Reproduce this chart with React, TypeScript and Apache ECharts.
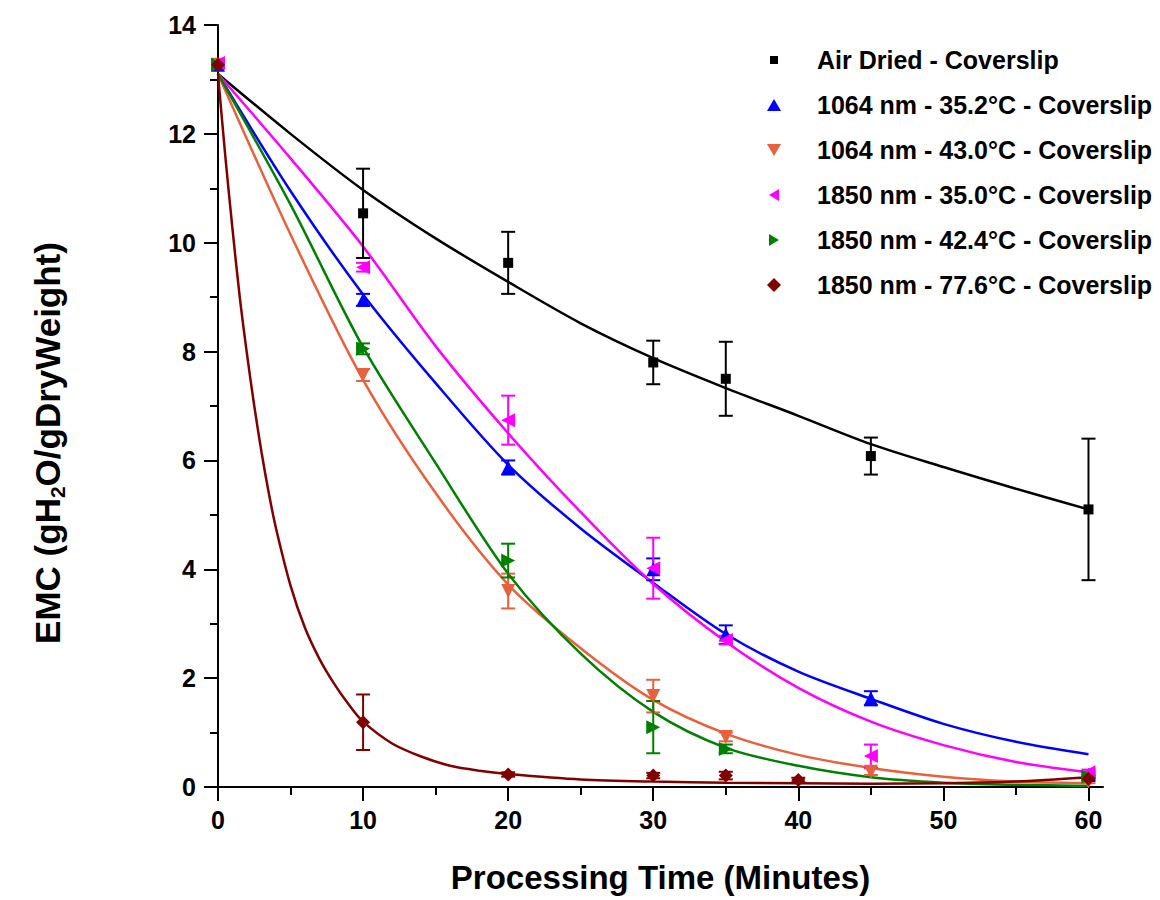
import React, { useEffect, useRef } from "react";
import * as echarts from "echarts";

const FONT = "Liberation Sans, Arial, sans-serif";

const seriesNames = [
  "Air Dried - Coverslip",
  "1064 nm - 35.2°C - Coverslip",
  "1064 nm - 43.0°C - Coverslip",
  "1850 nm - 35.0°C - Coverslip",
  "1850 nm - 42.4°C - Coverslip",
  "1850 nm - 77.6°C - Coverslip",
];
const seriesColors = ["#000000", "#0000FF", "#E8603C", "#FF00FF", "#008000", "#800000"];
const seriesSymbols = ["rect", "triangle", "triangle", "triangle", "triangle", "diamond"];
const seriesRotate = [0, 0, 180, 90, -90, 0];
const seriesSymbolSize = [10, 14, 14, 14, 14, 14];
const legendIcons = [
  "path://M0,0M14,14M3,3H11V11H3Z",
  "path://M7,1L14,13L0,13Z",
  "path://M0,1L14,1L7,13Z",
  "path://M0,0M14,14M12,1L12,13L2,7Z",
  "path://M0,0M14,14M2,1L2,13L12,7Z",
  "path://M7,0L14,7L7,14L0,7Z",
];

// measured points (mean ± error)
const airTimes = [0, 10, 20, 30, 35, 45, 60];
const airMeans = [13.27, 10.54, 9.63, 7.8, 7.5, 6.08, 5.1];
const airErrors = [0, 0.82, 0.57, 0.4, 0.68, 0.34, 1.3];

const b352Times = [0, 10, 20, 30, 35, 45, 60];
const b352Means = [13.27, 8.95, 5.87, 4.0, 2.8, 1.63, 0.22];
const b352Errors = [0.05, 0.11, 0.13, 0.2, 0.17, 0.13, 0.05];

const r430Times = [0, 10, 20, 30, 35, 45, 60];
const r430Means = [13.27, 7.57, 3.6, 1.67, 0.92, 0.28, 0.1];
const r430Errors = [0.05, 0.11, 0.32, 0.3, 0.08, 0.06, 0.03];

const m350Times = [0, 10, 20, 30, 35, 45, 60];
const m350Means = [13.3, 9.55, 6.74, 4.02, 2.7, 0.57, 0.27];
const m350Errors = [0.05, 0.08, 0.45, 0.56, 0.08, 0.21, 0.05];

const g424Times = [0, 10, 20, 30, 35, 60];
const g424Means = [13.27, 8.05, 4.16, 1.1, 0.7, 0.19];
const g424Errors = [0.05, 0.1, 0.31, 0.48, 0.08, 0.03];

const d776Times = [0, 10, 20, 30, 35, 40, 60];
const d776Means = [13.27, 1.19, 0.23, 0.21, 0.21, 0.13, 0.15];
const d776Errors = [0.05, 0.51, 0.04, 0.05, 0.07, 0.04, 0.03];

// fitted curves
const fitTimes = [0, 5, 10, 15, 20, 25, 30, 35, 40, 45, 50, 55, 60];
const airFit = [13.1, 12.0, 10.97, 10.08, 9.28, 8.52, 7.88, 7.33, 6.82, 6.3, 5.88, 5.48, 5.1];
const b352Fit = [13.1, 10.95, 9.05, 7.42, 5.92, 4.75, 3.75, 2.81, 2.12, 1.62, 1.16, 0.83, 0.6];
const r430Fit = [13.1, 10.15, 7.48, 5.4, 3.72, 2.55, 1.6, 0.98, 0.59, 0.35, 0.19, 0.1, 0.07];
const m350Fit = [13.1, 11.55, 9.93, 8.1, 6.5, 5.05, 3.73, 2.67, 1.82, 1.2, 0.77, 0.46, 0.27];
const g424Fit = [13.1, 10.7, 8.08, 5.95, 3.92, 2.45, 1.38, 0.72, 0.39, 0.18, 0.08, 0.04, 0.02];
const d776FitTimes = [0, 0.5, 1, 1.5, 2, 2.5, 3, 3.5, 4, 5, 6, 7, 8, 9, 10, 12, 14, 16, 18, 20, 25, 30, 35, 40, 45, 50, 55, 60];
const d776Fit = [13.1, 11.6, 10.25, 9.0, 7.95, 7.0, 6.15, 5.4, 4.75, 3.7, 2.92, 2.35, 1.9, 1.52, 1.2, 0.8, 0.56, 0.39, 0.3, 0.24, 0.14, 0.1, 0.08, 0.07, 0.06, 0.07, 0.1, 0.18];

const xMajorTicks = [0, 10, 20, 30, 40, 50, 60];
const xMinorTicks = [5, 15, 25, 35, 45, 55];

const pointSets = [
  [airTimes, airMeans, airErrors],
  [b352Times, b352Means, b352Errors],
  [r430Times, r430Means, r430Errors],
  [m350Times, m350Means, m350Errors],
  [g424Times, g424Means, g424Errors],
  [d776Times, d776Means, d776Errors],
];
const fitSets = [
  [fitTimes, airFit],
  [fitTimes, b352Fit],
  [fitTimes, r430Fit],
  [fitTimes, m350Fit],
  [fitTimes, g424Fit],
  [d776FitTimes, d776Fit],
];

function errorSeries(idx: number) {
  const [times, means, errs] = pointSets[idx];
  const color = seriesColors[idx];
  return {
    type: "custom",
    name: "err-" + idx,
    silent: true,
    z: 4,
    data: times.map((t, i) => [t, means[i] - errs[i], means[i] + errs[i], errs[i]]),
    encode: { x: 0, y: [1, 2] },
    renderItem: (params: any, api: any) => {
      if (api.value(3) <= 0) return null;
      const x = api.value(0);
      const top = api.coord([x, api.value(2)]);
      const bot = api.coord([x, api.value(1)]);
      const w = 7;
      const st = { stroke: color, lineWidth: 2 };
      return {
        type: "group",
        children: [
          { type: "line", shape: { x1: top[0], y1: top[1], x2: bot[0], y2: bot[1] }, style: st },
          { type: "line", shape: { x1: top[0] - w, y1: top[1], x2: top[0] + w, y2: top[1] }, style: st },
          { type: "line", shape: { x1: bot[0] - w, y1: bot[1], x2: bot[0] + w, y2: bot[1] }, style: st },
        ],
      };
    },
  };
}

export default function App() {
  const ref = useRef<HTMLDivElement>(null);
  useEffect(() => {
    document.body.style.margin = "0";
    const chart = echarts.init(ref.current!, null, { renderer: "svg" });
    const series: any[] = [];
    fitSets.forEach(([ts, vs], i) => {
      series.push({
        type: "line",
        name: "fit-" + i,
        data: ts.map((t, k) => [t, vs[k]]),
        showSymbol: false,
        smooth: 0.3,
        lineStyle: { color: seriesColors[i], width: 2.5 },
        z: 2,
        silent: true,
      });
    });
    pointSets.forEach(([ts, ms], i) => {
      series.push({
        type: "scatter",
        name: seriesNames[i],
        data: ts.map((t, k) => [t, ms[k]]),
        symbol: seriesSymbols[i],
        symbolRotate: seriesRotate[i],
        symbolSize: seriesSymbolSize[i],
        itemStyle: { color: seriesColors[i], opacity: 1 },
        z: 5,
      });
    });
    pointSets.forEach((_, i) => series.push(errorSeries(i)));

    const axisLine = { show: true, lineStyle: { color: "#000", width: 2 } };
    const labelStyle = { color: "#000", fontFamily: FONT, fontWeight: "bold", fontSize: 25 };

    chart.setOption({
      animation: false,
      grid: { left: 218, top: 25, right: 57, bottom: 113, containLabel: false },
      legend: {
        left: 762,
        top: 42,
        orient: "vertical",
        itemWidth: 14,
        itemHeight: 14,
        itemGap: 19,
        data: seriesNames.map((n, i) => ({ name: n, icon: legendIcons[i], itemStyle: { color: seriesColors[i] } })),
        textStyle: {
          color: "#000",
          fontFamily: FONT,
          fontWeight: "bold",
          fontSize: 25,
          lineHeight: 26,
          padding: [0, 0, 0, 31],
        },
        selectedMode: false,
      },
      xAxis: [
        {
          type: "value",
          min: 0,
          max: 61,
          interval: 10,
          axisLine: { ...axisLine, onZero: false },
          axisTick: { show: true, length: 14, lineStyle: { color: "#000", width: 2 }, customValues: xMajorTicks },
          axisLabel: { ...labelStyle, margin: 20, customValues: xMajorTicks },
          splitLine: { show: false },
          name: "Processing Time (Minutes)",
          nameLocation: "middle",
          nameGap: 74,
          nameTextStyle: { color: "#000", fontFamily: FONT, fontWeight: "bold", fontSize: 33 },
        },
        {
          type: "value",
          min: 0,
          max: 61,
          position: "bottom",
          axisLine: { show: false },
          axisTick: { show: true, length: 8, lineStyle: { color: "#000", width: 2 }, customValues: xMinorTicks },
          axisLabel: { show: false },
          splitLine: { show: false },
        },
      ],
      yAxis: {
        type: "value",
        min: 0,
        max: 14,
        interval: 2,
        axisLine: { ...axisLine, onZero: false },
        axisTick: { show: true, length: 14, lineStyle: { color: "#000", width: 2 } },
        minorTick: { show: true, splitNumber: 2, length: 8, lineStyle: { color: "#000", width: 2 } },
        axisLabel: { ...labelStyle, margin: 22 },
        splitLine: { show: false },
      },
      graphic: [
        {
          type: "text",
          x: 47,
          y: 443,
          rotation: Math.PI / 2,
          style: {
            text: "{a|EMC (gH}{s|2}{a|O/gDryWeight)}",
            align: "center",
            verticalAlign: "middle",
            rich: {
              a: { fontSize: 35, fontWeight: "bold", fontFamily: FONT, fill: "#000", lineHeight: 42 },
              s: { fontSize: 21, fontWeight: "bold", fontFamily: FONT, fill: "#000", lineHeight: 21, verticalAlign: "bottom" },
            },
          },
        },
      ],
      series,
    });
    return () => chart.dispose();
  }, []);
  return <div ref={ref} style={{ width: 1160, height: 900 }} />;
}
